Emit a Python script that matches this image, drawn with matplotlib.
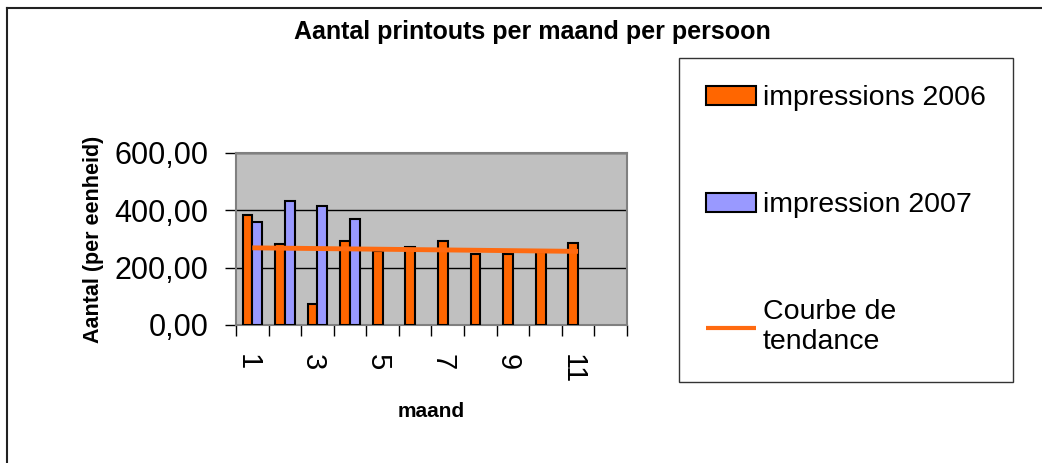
import numpy as np
import matplotlib
matplotlib.use("Agg")
import matplotlib.pyplot as plt
from matplotlib.lines import Line2D
import matplotlib.transforms as mtransforms

plt.rcParams["font.family"] = ["Liberation Sans", "DejaVu Sans"]

# data
months = np.arange(1, 13)
impressions_2006 = [384, 284, 74, 293, 258, 271, 292, 246, 249, 255, 287]
impressions_2007 = [358, 432, 414, 369]
tick_labels = ["1", "3", "5", "7", "9", "11"]
y_ticks = [0, 200, 400, 600]

ORANGE = "#FF6600"
BLUE = "#9999FF"
TREND = "#FF6A10"

fig = plt.figure(figsize=(10.42, 4.63), dpi=100)
ax = fig.add_axes([236 / 1042, 1 - 325 / 463, (627 - 236) / 1042, (325 - 153) / 463])
ax.set_facecolor("#C0C0C0")

w = 0.3
x06 = months[: len(impressions_2006)]
x07 = months[: len(impressions_2007)]
b06 = ax.bar(x06 - 0.15, impressions_2006, width=w, color=ORANGE, edgecolor="black",
             linewidth=1.5, label="impressions 2006", zorder=3)
b07 = ax.bar(x07 + 0.15, impressions_2007, width=w, color=BLUE, edgecolor="black",
             linewidth=1.5, label="impression 2007", zorder=3)

# linear trend of the 2006 series
slope, icpt = np.polyfit(x06, impressions_2006, 1)
trend, = ax.plot(x06, slope * x06 + icpt, color=TREND, linewidth=3.5,
                 label="Courbe de\ntendance", zorder=4, solid_capstyle="butt")

ax.set_xlim(0.5, 12.5)
ax.set_ylim(0, 600)
ax.set_yticks(y_ticks)
ax.set_yticklabels([f"{v:.2f}".replace(".", ",") for v in y_ticks], fontsize=22)
ax.yaxis.grid(True, color="black", linewidth=1, zorder=1)
ax.set_axisbelow(True)

ax.set_xticks(np.arange(0.5, 13.0, 1.0))
ax.set_xticklabels([])
ax.set_xticks(np.arange(1, 12, 2), minor=True)
ax.set_xticklabels(tick_labels, minor=True, rotation=-90, fontsize=21, va="top", ha="center")
ax.tick_params(axis="x", which="minor", length=0, pad=21)
ax.tick_params(axis="x", which="major", length=8, width=1, direction="out")
ax.tick_params(axis="y", length=8, width=1, direction="out", pad=12)
shift = mtransforms.ScaledTranslation(-5 / 100, 0, fig.dpi_scale_trans)
for lab in ax.get_xticklabels(minor=True):
    lab.set_transform(lab.get_transform() + shift)

for s in ax.spines.values():
    s.set_color("#808080")
    s.set_linewidth(1.5)

ax.set_xlabel("maand", fontsize=15, fontweight="bold", labelpad=13)
ax.set_ylabel("Aantal (per eenheid)", fontsize=15.5, fontweight="bold", labelpad=7)

fig.text(532 / 1042, 1 - 32 / 463, "Aantal printouts per maand per persoon",
         ha="center", va="center", fontsize=18, fontweight="bold")

leg = fig.legend(handles=[b06, b07, trend], loc="upper left",
                 bbox_to_anchor=(679 / 1042, 1 - 58 / 463),
                 fontsize=20.5, frameon=True, fancybox=False, shadow=False,
                 labelspacing=2.85, borderpad=0.95, handlelength=1.75, handleheight=0.65,
                 handletextpad=0.25, borderaxespad=0)
leg.get_frame().set_edgecolor("black")
leg.get_frame().set_linewidth(1)
for line in leg.get_lines():
    line.set_linewidth(3)

# outer chart frame (right and bottom edges fall outside the image)
fig.add_artist(Line2D([7 / 1042, 1], [1 - 8 / 463, 1 - 8 / 463], transform=fig.transFigure,
                      color="#222222", linewidth=1.5))
fig.add_artist(Line2D([7 / 1042, 7 / 1042], [0, 1 - 8 / 463], transform=fig.transFigure,
                      color="#222222", linewidth=1.5))

fig.savefig("out.png", dpi=100)
